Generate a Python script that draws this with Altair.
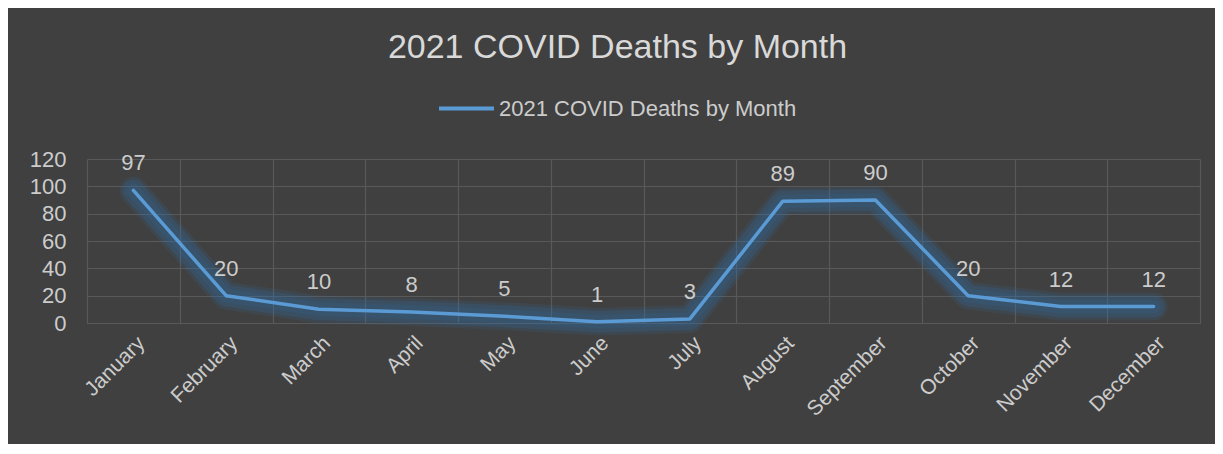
import altair as alt
import pandas as pd

months = ["January", "February", "March", "April", "May", "June", "July",
          "August", "September", "October", "November", "December"]
deaths = [97, 20, 10, 8, 5, 1, 3, 89, 90, 20, 12, 12]
series_name = "2021 COVID Deaths by Month"
y_ticks = [0, 20, 40, 60, 80, 100, 120]

df = pd.DataFrame({"month": months, "deaths": deaths, "series": series_name})

FONT = "Liberation Sans"
TXT = "#d9d9d9"
LBL = "#cccccc"
BLUE = "#5b9bd5"
GLOW = "#2e75b6"

x_enc = alt.X("month:N", sort=months, bandPosition=0.5,
              scale=alt.Scale(type="band", paddingInner=0, paddingOuter=0),
              axis=alt.Axis(title=None, tickBand="extent", grid=True, gridColor="#595959",
                            gridWidth=1.2, domain=False, ticks=False, labelAngle=-45,
                            labelFontSize=21, labelColor=LBL, labelFont=FONT,
                            labelPadding=9, labelLimit=0))
y_enc = alt.Y("deaths:Q", scale=alt.Scale(domain=[0, 120]),
              axis=alt.Axis(title=None, values=y_ticks, grid=True, gridColor="#595959",
                            gridWidth=1.2, domain=False, ticks=False, labelFontSize=22,
                            labelColor=LBL, labelFont=FONT, labelPadding=21))

base = alt.Chart(df)

glows = [
    base.mark_line(strokeWidth=w, opacity=o, color=GLOW, strokeJoin="round", strokeCap="round")
    .encode(x=x_enc, y=y_enc)
    for w, o in [(28, 0.12), (22, 0.2), (14, 0.12)]
]

line = base.mark_line(strokeWidth=3.5, strokeJoin="round", strokeCap="round").encode(
    x=x_enc, y=y_enc,
    color=alt.Color("series:N", scale=alt.Scale(range=[BLUE]),
                    legend=alt.Legend(title=None, orient="none", legendX=350, legendY=-80,
                                      symbolType="stroke", symbolSize=3025,
                                      symbolStrokeWidth=4, labelFontSize=22,
                                      labelColor=LBL, labelFont=FONT,
                                      labelOffset=3, labelLimit=0)),
)

labels = base.mark_text(baseline="bottom", dy=-15, fontSize=22, color=LBL,
                        font=FONT).encode(x=x_enc, y=y_enc, text="deaths:Q")

chart = alt.layer(*glows, line, labels).properties(
    width=1113, height=164,
    autosize=alt.AutoSizeParams(type="none"),
    padding={"left": 79, "top": 151, "right": 15, "bottom": 121},
    background="#404040",
    title=alt.TitleParams(series_name, fontSize=34, color=TXT, font=FONT,
                          fontWeight="normal", anchor="middle", dx=-26, offset=14),
).configure_view(stroke=None)

chart.save("out.html", embed_options={"renderer": "svg", "actions": False})
